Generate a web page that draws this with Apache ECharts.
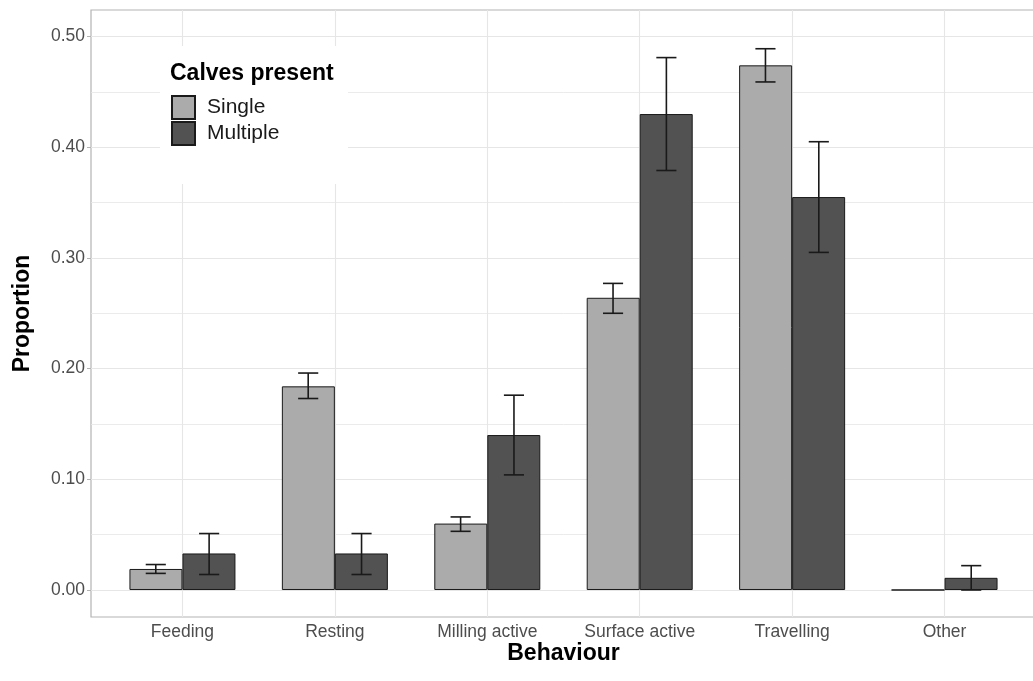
<!DOCTYPE html>
<html>
<head>
<meta charset="utf-8">
<script src="https://cdn.jsdelivr.net/npm/echarts@6/dist/echarts.min.js"></script>
<style>
html,body{margin:0;padding:0;background:#fff;overflow:hidden;}
#chart{width:1040px;height:681px;}
</style>
</head>
<body>
<div id="chart"></div>
<script>
// ---- data ----
const categories = ['Feeding', 'Resting', 'Milling active', 'Surface active', 'Travelling', 'Other'];
const seriesNames = ['Single', 'Multiple'];
const singleValues = [0.019, 0.184, 0.060, 0.264, 0.474, 0.000];
const singleLow    = [0.015, 0.173, 0.053, 0.250, 0.459, null];
const singleHigh   = [0.023, 0.196, 0.066, 0.277, 0.489, null];
const multipleValues = [0.033, 0.033, 0.140, 0.430, 0.355, 0.011];
const multipleLow    = [0.014, 0.014, 0.104, 0.379, 0.305, 0.000];
const multipleHigh   = [0.051, 0.051, 0.176, 0.481, 0.405, 0.022];
const yTicks = [0, 0.1, 0.2, 0.3, 0.4, 0.5];
const yMinorTicks = [0.05, 0.15, 0.25, 0.35, 0.45];
const legendTitle = 'Calves present';
const xTitle = 'Behaviour';
const yTitle = 'Proportion';

// ---- layout helpers ----
const dodge = 0.175;      // half of dodge width 0.35 (ggplot bar width 0.7)
const capHalf = 0.066;    // half errorbar cap width in category units
const colors = ['#ababab', '#525252'];
const catPos = categories.map((c, i) => i + 1);

function barData(vals) { return vals.map((v, i) => [catPos[i], v]); }
function errData(lo, hi, off) {
  const out = [];
  lo.forEach((l, i) => { if (l !== null && hi[i] !== null) out.push([catPos[i] + off, l, hi[i]]); });
  return out;
}
function renderErr(params, api) {
  const x = api.value(0), lo = api.value(1), hi = api.value(2);
  const pLo = api.coord([x, lo]);
  const pHi = api.coord([x, hi]);
  const half = api.size([capHalf, 0])[0];
  const st = { stroke: '#1a1a1a', lineWidth: 1.6 };
  return {
    type: 'group',
    children: [
      { type: 'line', shape: { x1: pLo[0], y1: pLo[1], x2: pHi[0], y2: pHi[1] }, style: st },
      { type: 'line', shape: { x1: pHi[0] - half, y1: pHi[1], x2: pHi[0] + half, y2: pHi[1] }, style: st },
      { type: 'line', shape: { x1: pLo[0] - half, y1: pLo[1], x2: pLo[0] + half, y2: pLo[1] }, style: st }
    ]
  };
}

const gridLineData = []
  .concat(yMinorTicks.map(v => ({ yAxis: v, lineStyle: { width: 0.8 } })))
  .concat(yTicks.map(v => ({ yAxis: v })))
  .concat(catPos.map(v => ({ xAxis: v })));

const fontFam = '"Liberation Sans", Arial, sans-serif';
const chart = echarts.init(document.getElementById('chart'), null, { renderer: 'canvas' });
chart.setOption({
  backgroundColor: '#ffffff',
  animation: false,
  textStyle: { fontFamily: fontFam },
  title: {
    text: legendTitle,
    left: 170, top: 62, z: 6,
    padding: 0,
    textStyle: { fontSize: 23, fontWeight: 'bold', color: '#000', fontFamily: fontFam }
  },
  legend: {
    data: seriesNames,
    orient: 'vertical',
    left: 171, top: 95, z: 6,
    padding: 0,
    itemWidth: 23, itemHeight: 23, itemGap: 1,
    icon: 'rect',
    textStyle: { fontSize: 21, color: '#1a1a1a', padding: [0, 0, 0, 7], fontFamily: fontFam },
    selectedMode: false
  },
  graphic: [{
    type: 'rect', left: 160, top: 46, z: 3,
    shape: { width: 188, height: 138 },
    style: { fill: '#ffffff' }
  }],
  grid: {
    left: 91, top: 10, width: 945, height: 607,
    show: true, borderColor: '#b3b3b3', borderWidth: 1.2, backgroundColor: '#fff'
  },
  xAxis: {
    type: 'value', min: 0.4, max: 6.6,
    name: xTitle, nameLocation: 'middle', nameGap: 25, nameMoveOverlap: false,
    nameTextStyle: { fontSize: 23, fontWeight: 'bold', color: '#000', verticalAlign: 'top' },
    axisLine: { show: false },
    axisTick: { show: true, length: 4, lineStyle: { color: '#b3b3b3', width: 1 }, customValues: catPos },
    axisLabel: {
      customValues: catPos, fontSize: 17.5, color: '#4d4d4d', margin: 6,
      formatter: v => categories[Math.round(v) - 1] || ''
    },
    splitLine: { show: false }
  },
  yAxis: {
    type: 'value', min: -0.0244, max: 0.524,
    name: yTitle, nameLocation: 'middle', nameGap: 57, nameRotate: 90, nameMoveOverlap: false,
    nameTextStyle: { fontSize: 23, fontWeight: 'bold', color: '#000' },
    axisLine: { show: false },
    axisTick: { show: true, length: 4, lineStyle: { color: '#b3b3b3', width: 1 }, customValues: yTicks },
    axisLabel: {
      customValues: yTicks, fontSize: 17.5, color: '#4d4d4d', margin: 6,
      formatter: v => v.toFixed(2)
    },
    splitLine: { show: false }
  },
  series: [
    {
      name: 'grid', type: 'line', data: [], z: 1, silent: true,
      markLine: {
        z: 1, silent: true, symbol: 'none', label: { show: false }, animation: false,
        lineStyle: { color: '#e6e6e6', type: 'solid', width: 1.1 },
        data: gridLineData
      }
    },
    {
      name: seriesNames[0], type: 'bar', data: barData(singleValues), z: 4,
      barWidth: 53, barGap: '0%',
      itemStyle: { color: colors[0], borderColor: '#1a1a1a', borderWidth: 1 }
    },
    {
      name: seriesNames[1], type: 'bar', data: barData(multipleValues), z: 4,
      barWidth: 53, barGap: '0%',
      itemStyle: { color: colors[1], borderColor: '#1a1a1a', borderWidth: 1 }
    },
    {
      name: 'errSingle', type: 'custom', z: 5, silent: true,
      renderItem: renderErr, encode: { x: 0, y: [1, 2] },
      data: errData(singleLow, singleHigh, -dodge)
    },
    {
      name: 'errMultiple', type: 'custom', z: 5, silent: true,
      renderItem: renderErr, encode: { x: 0, y: [1, 2] },
      data: errData(multipleLow, multipleHigh, dodge)
    }
  ]
});
</script>
</body>
</html>
